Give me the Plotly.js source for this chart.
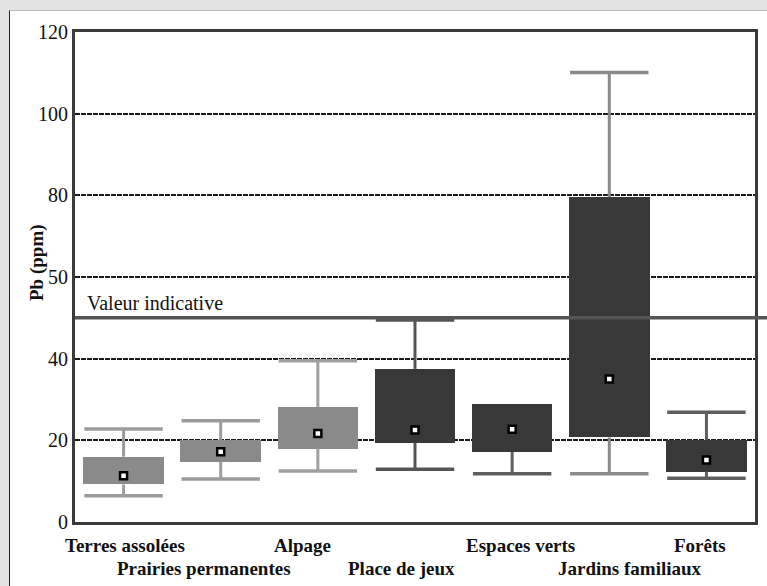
<!DOCTYPE html>
<html><head><meta charset="utf-8">
<script src="https://cdn.plot.ly/plotly-3.0.1.min.js"></script>
<style>
html,body{margin:0;padding:0;background:#e3e3e3;width:767px;height:586px;overflow:hidden;}
#panel{position:absolute;left:9px;top:10px;width:758px;height:576px;background:#fff;border-left:1px solid #222;border-top:1px solid #bbb;}
#chart{position:absolute;left:0;top:0;width:767px;height:586px;}
</style></head>
<body><div id="panel"></div><div id="chart"></div>
<script>
const categories = ["Terres assolées","Prairies permanentes","Alpage","Place de jeux","Espaces verts","Jardins familiaux","Forêts"];
const q1Values    = [9.2, 14.8, 18.0, 19.4, 17.2, 20.7, 12.3];
const q3Values    = [16.0, 20.1, 28.2, 37.5, 28.9, 79.6, 20.1];
const lowerValues = [6.4, 10.5, 12.5, 12.9, 11.8, 11.8, 10.7];
const upperValues = [22.8, 24.8, 39.5, 49.5, 28.9, 110.1, 26.9];
const meanValues  = [11.3, 17.2, 21.7, 22.5, 22.7, 35.0, 15.2];
const guideValue = 50;
const guideLabel = "Valeur indicative";
const tickValues = [0, 20, 40, 60, 80, 100, 120];
const tickLabels = ["0", "20", "40", "50", "80", "100", "120"];

const boxColors = ["#8a8a8a","#8a8a8a","#8a8a8a","#383838","#383838","#383838","#383838"];
const whiskerColors = ["#9c9c9c","#9c9c9c","#a0a0a0","#555555","#5e5e5e","#8a8a8a","#5e5e5e"];
const labelRow = [0,1,0,1,0,1,0];
const labelShift = [1,-17,-15,-14,8,21,-6];

const serif = "Liberation Serif";
const traces = [];
traces.push({
  type:"bar", x:categories, base:q1Values,
  y:q3Values.map((v,i)=>v-q1Values[i]),
  width:0.83, marker:{color:boxColors, line:{width:0}},
  hoverinfo:"skip", showlegend:false
});
categories.forEach((c,i)=>{
  const segs = [];
  if (upperValues[i] > q3Values[i]) segs.push([q3Values[i], upperValues[i]]);
  if (lowerValues[i] < q1Values[i]) segs.push([q1Values[i], lowerValues[i]]);
  segs.forEach(s=>{
    traces.push({
      type:"scatter", mode:"lines", x:[c,c], y:s,
      line:{color:whiskerColors[i], width:3},
      showlegend:false, hoverinfo:"skip"
    });
    traces.push({
      type:"scatter", mode:"markers", x:[c], y:[s[1]],
      marker:{symbol:"line-ew", size:56, line:{color:whiskerColors[i], width:3.5}},
      showlegend:false, hoverinfo:"skip", cliponaxis:false
    });
  });
});
traces.push({
  type:"scatter", mode:"markers", x:categories, y:meanValues,
  marker:{symbol:"square", size:7, color:"#fff", line:{color:"#000", width:2.5}},
  showlegend:false, hoverinfo:"skip"
});

const annotations = categories.map((c,i)=>({
  x:c, xref:"x", y:0, yref:"paper", yanchor:"top",
  yshift: labelRow[i] ? -34 : -11, xshift:labelShift[i],
  text:"<b>"+c+"</b>", showarrow:false,
  font:{family:serif, size:19, color:"#111"}
}));
annotations.push({
  x:0, xref:"paper", y:guideValue, yref:"y", xanchor:"left", yanchor:"bottom",
  xshift:10, yshift:2, text:guideLabel, showarrow:false,
  font:{family:serif, size:20, color:"#111"}
});
annotations.push({
  x:0, xref:"paper", y:0.5, yref:"paper", xanchor:"center", yanchor:"middle",
  xshift:-38, yshift:14, textangle:-90, text:"<b>Pb (ppm)</b>", showarrow:false,
  font:{family:serif, size:19, color:"#111"}
});

const layout = {
  width:767, height:586,
  margin:{l:75, r:12, t:32, b:64},
  paper_bgcolor:"rgba(0,0,0,0)", plot_bgcolor:"#fff",
  font:{family:serif},
  showlegend:false,
  xaxis:{type:"category", range:[-0.5,6.5], showticklabels:false, ticks:"",
    showgrid:false, zeroline:false, showline:true, mirror:true, linewidth:3, linecolor:"#3a3a3a", fixedrange:true},
  yaxis:{range:[0,120], tickvals:tickValues, ticktext:tickLabels, ticks:"",
    showgrid:true, gridcolor:"#1a1a1a", gridwidth:1.8, griddash:"5px,1px",
    zeroline:false, showline:true, mirror:true, linewidth:3, linecolor:"#3a3a3a",
    tickfont:{family:serif, size:20, color:"#111"}, ticklabelstandoff:0, fixedrange:true},
  shapes:[{type:"line", xref:"paper", x0:0, x1:1.02, yref:"y", y0:guideValue, y1:guideValue,
    line:{color:"#555", width:3.5}, layer:"above"}],
  annotations:annotations,
  bargap:0
};
Plotly.newPlot("chart", traces, layout, {displayModeBar:false, staticPlot:true});
</script></body></html>
